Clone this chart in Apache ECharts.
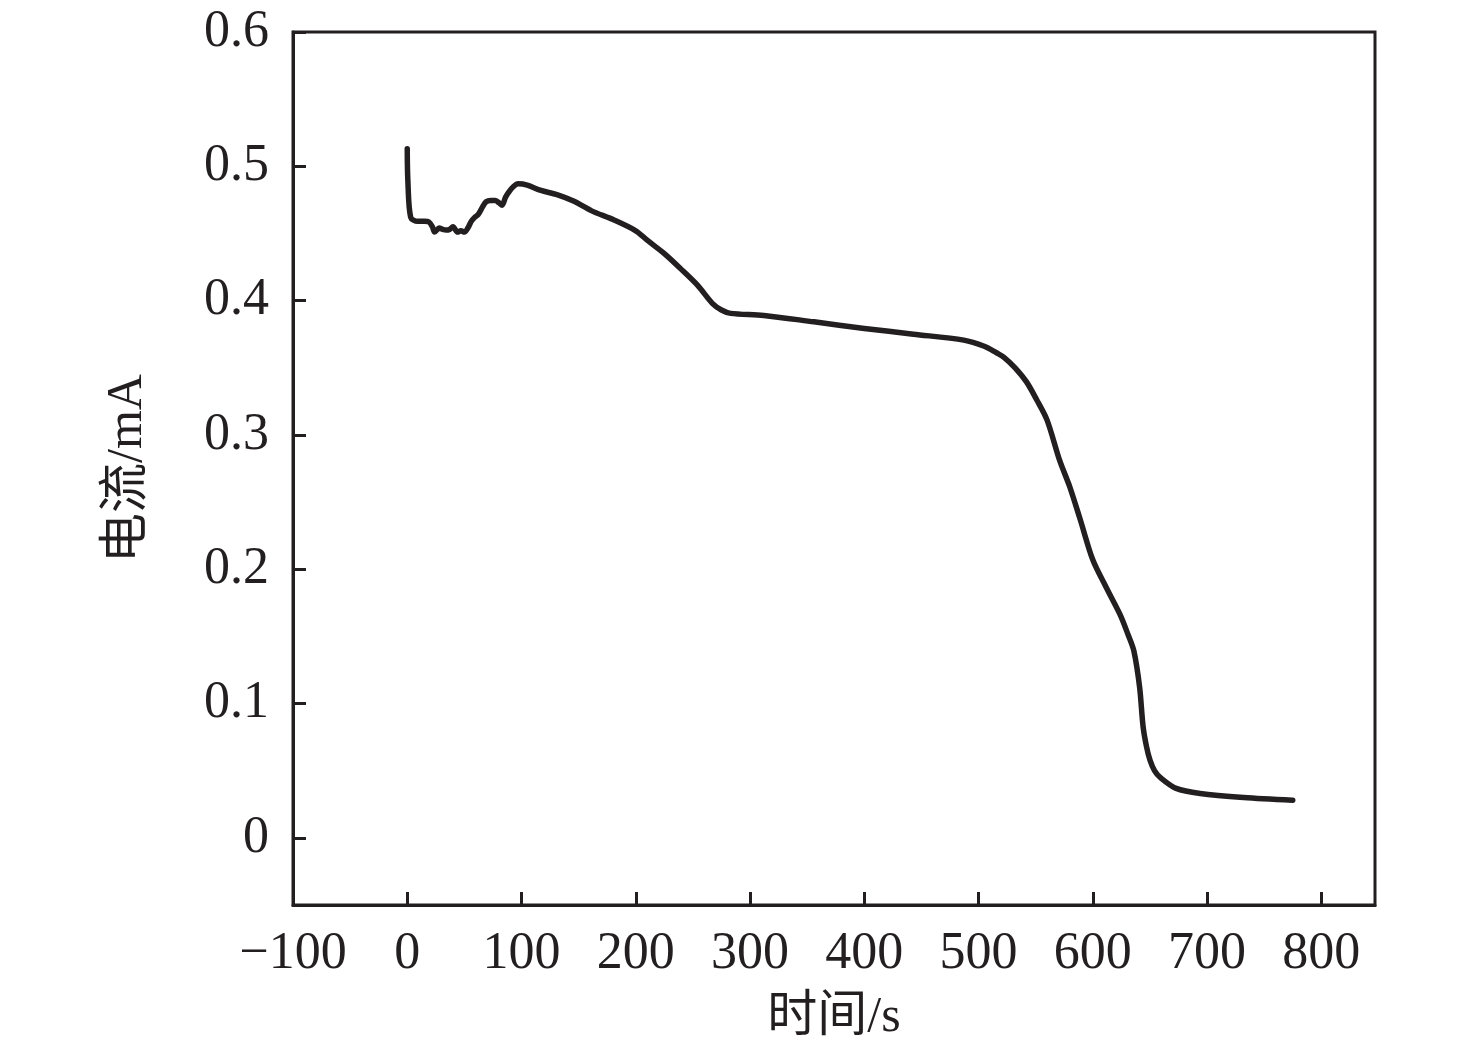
<!DOCTYPE html>
<html>
<head>
<meta charset="utf-8">
<script src="https://cdn.jsdelivr.net/npm/echarts@6/dist/echarts.min.js"></script>
<style>
html,body{margin:0;padding:0;background:#fff;}
#chart{width:1476px;height:1053px;}
</style>
</head>
<body>
<div id="chart"></div>
<script>
// time (s)
const timeS = [0, 0.5, 3, 9, 15, 19, 22, 24, 28, 31, 34, 37, 40, 44, 47, 50, 53, 56, 59, 62, 66, 69, 73, 77, 80, 83, 86, 89, 93, 97, 105, 117, 131, 146, 161, 181, 200, 210, 225, 239, 254, 267, 275, 283, 312, 356, 400, 443, 487, 505, 516, 522, 532, 542, 551, 560, 571, 580, 589, 600, 612, 624, 631, 636, 641, 644, 647, 650, 654, 659, 673, 694, 732, 775];
// current (mA)
const currentMA = [0.513, 0.490, 0.462, 0.459, 0.459, 0.4585, 0.455, 0.451, 0.454, 0.453, 0.4525, 0.453, 0.455, 0.451, 0.452, 0.451, 0.454, 0.459, 0.462, 0.464, 0.470, 0.4736, 0.4745, 0.4745, 0.473, 0.471, 0.477, 0.481, 0.485, 0.487, 0.486, 0.482, 0.479, 0.474, 0.467, 0.460, 0.452, 0.445, 0.435, 0.424, 0.4115, 0.398, 0.393, 0.3905, 0.389, 0.3842, 0.3793, 0.375, 0.3706, 0.366, 0.361, 0.358, 0.350, 0.3395, 0.326, 0.311, 0.281, 0.261, 0.237, 0.207, 0.186, 0.166, 0.151, 0.139, 0.112, 0.083, 0.068, 0.058, 0.050, 0.045, 0.0368, 0.033, 0.030, 0.028];
const xTitle = '时间/s';
const yTitle = '电流/mA';

const ink = '#231f20';
const font = '"Liberation Serif", "Times New Roman", "Noto Sans CJK SC", serif';
const data = timeS.map((t, i) => [t, currentMA[i]]);

const chart = echarts.init(document.getElementById('chart'));
chart.setOption({
  animation: false,
  backgroundColor: '#fff',
  grid: {
    left: 293, right: 101, top: 32, bottom: 148,
    show: true, borderColor: ink, borderWidth: 3, containLabel: false
  },
  xAxis: {
    type: 'value', min: -100, max: 847, interval: 100,
    name: xTitle, nameLocation: 'middle', nameGap: 88,
    nameTextStyle: { fontFamily: font, fontSize: 50, color: ink },
    axisLine: { show: true, onZero: false, lineStyle: { color: ink, width: 3 } },
    axisTick: { show: true, inside: true, length: 13, lineStyle: { color: ink, width: 3 } },
    axisLabel: {
      margin: 23, fontFamily: font, fontSize: 52, color: ink, showMaxLabel: false,
      formatter: v => (v < 0 ? '\u2212' + Math.abs(v) : String(v))
    },
    splitLine: { show: false }
  },
  yAxis: {
    type: 'value', min: -0.05, max: 0.6, minInterval: 0.1, maxInterval: 0.1,
    name: yTitle, nameLocation: 'middle', nameGap: 140,
    nameTextStyle: { fontFamily: font, fontSize: 50, color: ink },
    axisLine: { show: true, onZero: false, lineStyle: { color: ink, width: 3 } },
    axisTick: { show: true, inside: true, length: 13, lineStyle: { color: ink, width: 3 } },
    axisLabel: {
      margin: 24, fontFamily: font, fontSize: 52, color: ink, showMinLabel: false,
      formatter: v => {
        const r = Math.round(v * 10);
        if (Math.abs(v * 10 - r) > 1e-6 || v < 0) return '';
        return r === 0 ? '0' : (r / 10).toFixed(1);
      }
    },
    splitLine: { show: false }
  },
  series: [{
    type: 'line', data: data, showSymbol: false, smooth: 0.3,
    lineStyle: { color: ink, width: 5.5, cap: 'round', join: 'round' }
  }]
});
</script>
</body>
</html>
